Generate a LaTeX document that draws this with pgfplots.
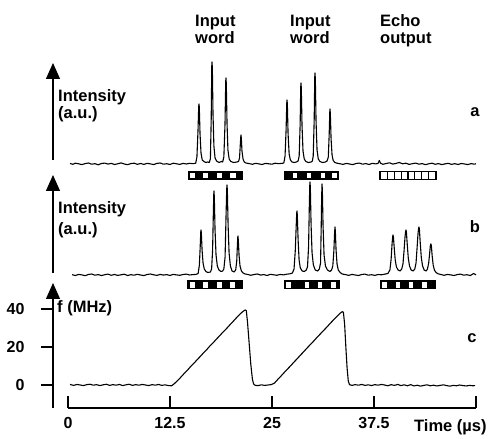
\documentclass[border=0pt]{standalone}
\usepackage{fontspec}
\setmainfont{Liberation Sans}
\usepackage{pgfplots}
\pgfplotsset{compat=1.18}
\usetikzlibrary{arrows.meta}

\pgfplotsset{
  trace/.style={black, line width=1.1pt, line join=round},
  box/.style={black, line width=9pt},
  cell/.style={white, line width=5.5pt, unbounded coords=jump},
  panel/.style={scale only axis, width=408pt, xmin=0, xmax=50, clip=false},
}
\tikzset{lbl/.style={inner sep=0pt, font=\bfseries\fontsize{16.5}{16.5}\selectfont},
         tip/.style={line width=1.2pt, -{Triangle[length=16pt,width=14pt]}}}

\begin{document}
\begin{tikzpicture}
\useasboundingbox (0pt,0pt) rectangle (494pt,438pt);

% ---- panel a
\begin{axis}[panel, hide axis, ymin=-20, ymax=101, height=121pt,
    at={(68pt,254pt)}, anchor=south west]
\addplot[trace] coordinates {
 (0.25,0.5)(0.6,-0.3)(0.9,0.8)(1.3,0.2)(1.7,-0.6)(2.1,0.4)(2.5,1.0)(2.9,-0.2)(3.3,0.3)(3.7,-0.8)
 (4.1,0.5)(4.5,0.9)(4.9,-0.1)(5.3,0.6)(5.7,-0.5)(6.1,0.2)(6.5,1.1)(6.9,0.0)(7.3,-0.7)(7.7,0.4)
 (8.1,0.8)(8.5,-0.3)(8.9,0.5)(9.3,-0.4)(9.7,0.7)(10.1,0.1)(10.5,-0.6)(10.9,0.6)(11.3,1.0)(11.7,-0.2)
 (12.1,0.3)(12.5,-0.5)(12.9,0.8)(13.3,0.2)(13.7,-0.4)(14.1,0.6)(14.5,0.0)(14.9,0.7)(15.3,0.3)
 (15.65,0.8)(15.8,7)(15.93,33)(16.02,58)(16.05,60)(16.09,57)(16.18,30)(16.3,11)(16.45,4)(16.65,2.5)(16.9,1.5)(17.1,2)(17.3,1.5)
 (17.45,5)(17.55,45)(17.62,98)(17.65,102)(17.69,96)(17.77,50)(17.88,18)(18.02,6)(18.2,3)(18.5,1.5)(18.8,2.5)(18.95,2)
 (19.1,7)(19.24,40)(19.33,83)(19.36,86)(19.40,80)(19.49,40)(19.6,14)(19.75,5)(19.95,2.5)(20.3,1.5)(20.7,2)(20.9,2.5)
 (21.02,6)(21.12,20)(21.18,28)(21.2,29)(21.24,26)(21.32,13)(21.45,5)(21.6,2)(21.8,1)
 (22.2,0.4)(22.6,-0.3)(23.0,0.7)(23.4,0.1)(23.8,-0.5)(24.2,0.6)(24.6,0.2)(25.0,-0.2)(25.4,0.8)(25.8,0.3)(26.2,0.6)
 (26.45,1)(26.6,8)(26.73,35)(26.81,61)(26.84,64)(26.88,60)(26.97,30)(27.1,10)(27.25,4)(27.45,2)(27.7,1.5)(28.0,2)(28.2,3)
 (28.33,8)(28.45,40)(28.52,77)(28.55,81)(28.59,76)(28.68,38)(28.8,13)(28.95,5)(29.15,2.5)(29.45,1.5)(29.8,2)(29.95,3)
 (30.05,8)(30.17,44)(30.24,87)(30.27,91)(30.31,85)(30.4,42)(30.52,14)(30.67,5)(30.87,2.5)(31.2,1.5)(31.55,2)(31.75,3)
 (31.9,7)(32.01,30)(32.08,52)(32.11,55)(32.15,50)(32.24,25)(32.36,9)(32.5,3.5)(32.7,1.5)(32.95,0.8)
 (33.3,0.3)(33.7,-0.4)(34.1,0.6)(34.5,0.0)(34.9,-0.6)(35.3,0.5)(35.7,0.9)(36.1,-0.2)(36.5,0.4)(36.9,-0.5)
 (37.3,0.7)(37.7,0.1)(38.0,0.6)(38.15,3.5)(38.3,0.8)(38.6,-0.3)(39.0,0.5)(39.4,1.2)(39.8,-0.1)(40.2,0.6)
 (40.6,1.5)(41.0,0.2)(41.4,0.8)(41.8,-0.4)(42.2,0.3)(42.6,0.9)(43.0,-0.2)(43.4,0.4)(43.8,-0.7)(44.2,0.2)
 (44.6,0.8)(45.0,-0.3)(45.4,0.4)(45.8,-0.6)(46.2,0.1)(46.6,0.7)(47.0,-0.4)(47.4,0.3)(47.8,-0.5)(48.2,0.5)
 (48.6,0.0)(49.0,-0.6)(49.4,0.4)(49.8,-0.2)(50.0,0.3)
};
% code words
\addplot[box] coordinates {(14.71,-11.5)(21.45,-11.5)};
\addplot[cell] coordinates {(14.95,-11.5)(15.56,-11.5)(15.56,nan)(16.54,-11.5)(17.16,-11.5)(17.16,nan)
  (18.26,-11.5)(18.87,-11.5)(18.87,nan)(19.85,-11.5)(20.59,-11.5)};
\addplot[box] coordinates {(26.47,-11.5)(33.21,-11.5)};
\addplot[cell] coordinates {(27.57,-11.5)(28.06,-11.5)(28.06,nan)(29.29,-11.5)(29.78,-11.5)(29.78,nan)
  (31.00,-11.5)(31.50,-11.5)(31.50,nan)(32.35,-11.5)(32.97,-11.5)};
\addplot[box] coordinates {(38.11,-11.5)(45.22,-11.5)};
\addplot[cell, line width=6.5pt] coordinates {(38.37,-11.5)(39.07,-11.5)(39.07,nan)(39.21,-11.5)(39.91,-11.5)(39.91,nan)
  (40.06,-11.5)(40.76,-11.5)(40.76,nan)(40.90,-11.5)(41.60,-11.5)(41.60,nan)
  (41.74,-11.5)(42.44,-11.5)(42.44,nan)(42.58,-11.5)(43.28,-11.5)(43.28,nan)
  (43.43,-11.5)(44.13,-11.5)(44.13,nan)(44.27,-11.5)(44.97,-11.5)};
\draw[tip] (axis cs:-1.84,4) -- (axis cs:-1.84,101);
\end{axis}

% ---- panel b
\begin{axis}[panel, hide axis, ymin=-20, ymax=100, height=120pt,
    at={(68pt,143pt)}, anchor=south west]
\addplot[trace] coordinates {
 (0.5,0.3)(0.9,-0.5)(1.3,0.6)(1.7,0.1)(2.1,-0.7)(2.5,0.5)(2.9,1.0)(3.3,-0.2)(3.7,0.4)(4.1,-0.6)
 (4.5,0.3)(4.9,0.9)(5.3,-0.3)(5.7,0.5)(6.1,-0.4)(6.5,0.2)(6.9,0.8)(7.3,-0.5)(7.7,0.3)(8.1,-0.2)
 (8.5,0.7)(8.9,0.0)(9.3,-0.6)(9.7,0.5)(10.1,1.0)(10.5,0.2)(10.9,-0.4)(11.3,0.6)(11.7,-0.1)(12.1,0.4)
 (12.5,-0.5)(12.9,0.6)(13.3,0.1)(13.7,-0.3)(14.1,0.5)(14.5,0.9)(14.9,0.0)(15.3,0.4)(15.7,0.6)
 (15.95,1.5)(16.1,10)(16.2,28)(16.27,43)(16.3,45)(16.34,42)(16.43,25)(16.55,12)(16.7,6)(16.9,3.5)(17.15,2.5)(17.45,3)(17.6,6)
 (17.72,25)(17.82,65)(17.87,82)(17.89,84)(17.93,78)(18.02,45)(18.14,20)(18.3,9)(18.5,5)(18.75,3.5)(18.95,4)(19.1,6)
 (19.25,18)(19.37,60)(19.45,86)(19.49,90)(19.53,84)(19.62,50)(19.74,22)(19.9,9)(20.1,4)(20.35,3)(20.55,5)
 (20.68,14)(20.77,32)(20.81,38)(20.83,39)(20.87,35)(20.96,20)(21.08,9)(21.25,4)(21.45,2)(21.7,1)
 (22.0,0.6)(22.4,-0.3)(22.8,0.5)(23.2,1.0)(23.6,-0.1)(24.0,0.4)(24.4,-0.5)(24.8,0.7)(25.2,0.2)(25.6,-0.3)
 (26.0,0.6)(26.4,0.1)(26.8,0.8)(27.2,1.2)(27.5,2)
 (27.7,6)(27.85,24)(27.97,50)(28.03,62)(28.06,64)(28.1,60)(28.2,35)(28.32,15)(28.47,7)(28.7,4)(28.95,3.5)(29.2,5)(29.35,8)
 (29.48,28)(29.58,72)(29.63,90)(29.66,93)(29.7,87)(29.79,50)(29.91,22)(30.07,10)(30.3,5)(30.6,4)(30.8,6)(30.95,12)
 (31.03,48)(31.09,80)(31.13,91)(31.17,85)(31.26,48)(31.38,20)(31.55,9)(31.8,5)(32.1,3.5)(32.3,5)(32.45,9)
 (32.58,24)(32.67,42)(32.72,48)(32.76,44)(32.85,25)(32.97,11)(33.12,5)(33.35,2.5)(33.6,1)
 (34.0,0.4)(34.4,-0.4)(34.8,0.6)(35.2,0.0)(35.6,-0.5)(36.0,0.5)(36.4,0.9)(36.8,-0.2)(37.2,0.3)(37.6,-0.4)
 (38.0,0.5)(38.4,0.2)(38.8,0.8)(39.2,1.5)
 (39.45,5)(39.6,16)(39.72,32)(39.8,39)(39.83,40)(39.88,38)(39.98,27)(40.1,15)(40.25,8)(40.45,5)(40.7,4)(40.9,6)(41.05,11)
 (41.18,24)(41.3,38)(41.38,44)(41.42,45)(41.47,43)(41.57,31)(41.7,17)(41.85,9)(42.05,5)(42.3,4)(42.5,6)(42.65,12)
 (42.77,26)(42.89,41)(42.97,47)(43.01,48)(43.06,46)(43.16,33)(43.29,18)(43.45,9)(43.65,5)(43.9,4)(44.05,6)(44.2,12)
 (44.3,20)(44.4,29)(44.46,31)(44.49,31)(44.54,28)(44.63,19)(44.75,10)(44.9,5)(45.1,2.5)(45.35,1.2)
 (45.7,0.5)(46.1,-0.3)(46.5,0.6)(46.9,0.1)(47.3,-0.5)(47.7,0.4)(48.1,0.9)(48.5,-0.2)(48.9,0.3)(49.3,-0.6)
 (49.7,1.5)(50.0,0.2)
};
\addplot[box] coordinates {(14.58,-10)(21.45,-10)};
\addplot[cell] coordinates {(14.95,-10)(15.56,-10)(15.56,nan)(16.54,-10)(17.16,-10)(17.16,nan)
  (18.26,-10)(18.87,-10)(18.87,nan)(19.85,-10)(20.47,-10)};
\addplot[box] coordinates {(26.47,-10)(33.33,-10)};
\addplot[cell] coordinates {(26.72,-10)(27.33,-10)(27.33,nan)(29.04,-10)(29.53,-10)(29.53,nan)
  (30.64,-10)(31.13,-10)(31.13,nan)(32.23,-10)(32.84,-10)};
\addplot[box] coordinates {(38.24,-10)(45.10,-10)};
\addplot[cell] coordinates {(38.48,-10)(39.09,-10)(39.09,nan)(40.20,-10)(40.69,-10)(40.69,nan)
  (41.79,-10)(42.28,-10)(42.28,nan)(43.38,-10)(43.99,-10)};
\draw[tip] (axis cs:-1.84,2) -- (axis cs:-1.84,100);
\end{axis}

% ---- panel c
\begin{axis}[panel, ymin=-12.1, ymax=53.7, height=125pt,
    at={(68pt,30pt)}, anchor=south west,
    axis x line*=bottom, axis y line*=left, axis y line shift=15pt,
    x axis line style={line width=1.1pt},
    y axis line style={line width=1.2pt, -{Triangle[length=16pt,width=14pt]}},
    xtick={0,12.5,25,37.5,50}, xticklabels={0,12.5,25,37.5,{}},
    ytick={0,20,40}, yticklabels={0,20,40},
    xtick align=inside, ytick align=outside, major tick length=12pt,
    tick style={black, line width=1.1pt},
    /pgf/number format/assume math mode=true,
    ticklabel style={font=\bfseries\fontsize{16}{16}\selectfont},
    xticklabel style={yshift=-6pt},
    yticklabel style={xshift=-13pt},
]
\addplot[trace] coordinates {
 (0.25,0.3)(0.7,-0.2)(1.1,0.3)(1.5,0.0)(1.9,-0.3)(2.3,0.2)(2.7,0.4)(3.1,-0.1)(3.5,0.2)(3.9,-0.3)
 (4.3,0.1)(4.7,0.4)(5.1,-0.2)(5.5,0.2)(5.9,-0.1)(6.3,0.3)(6.7,-0.3)(7.1,0.1)(7.5,0.4)(7.9,-0.2)
 (8.3,0.2)(8.7,-0.1)(9.1,0.3)(9.5,0.0)(9.9,-0.3)(10.3,0.2)(10.7,-0.1)(11.1,0.3)(11.5,-0.2)(11.9,0.1)
 (12.3,-0.3)(12.7,-0.4)
 (13.0,0.6)(13.4,2.2)(13.8,4.0)(14.2,5.9)(14.6,7.6)(15.0,9.6)(15.4,11.3)(15.8,13.2)(16.2,15.0)(16.6,16.9)
 (17.0,18.6)(17.4,20.6)(17.8,22.3)(18.2,24.2)(18.6,26.0)(19.0,27.9)(19.4,29.6)(19.8,31.5)(20.2,33.3)(20.6,35.2)
 (21.0,37.0)(21.4,38.6)(21.7,39.5)(21.85,39.2)
 (22.0,33)(22.2,22)(22.4,11)(22.6,3)(22.75,0.5)(22.95,-0.2)(23.3,-0.3)(23.7,0.1)(24.1,-0.2)(24.5,0.0)(24.9,0.2)
 (25.3,1.0)(25.7,2.9)(26.1,4.7)(26.5,6.6)(26.9,8.4)(27.3,10.2)(27.7,12.1)(28.1,13.9)(28.5,15.8)(28.9,17.6)
 (29.3,19.5)(29.7,21.3)(30.1,23.1)(30.5,25.0)(30.9,26.8)(31.3,28.6)(31.7,30.4)(32.1,32.3)(32.5,34.1)(32.9,35.9)
 (33.3,37.6)(33.6,38.6)(33.75,38.3)
 (33.9,32)(34.05,20)(34.2,9)(34.35,2)(34.5,0.2)(34.8,-0.2)
 (35.2,0.2)(35.6,-0.1)(36.0,0.3)(36.4,-0.2)(36.8,0.1)(37.2,-0.3)(37.6,0.2)(38.0,-0.1)(38.4,0.3)(38.8,0.0)
 (39.2,-0.4)(39.6,0.2)(40.0,-0.2)(40.4,0.3)(40.8,-0.3)(41.2,0.1)(41.6,-0.4)(42.0,0.2)(42.4,-0.5)(42.8,-0.1)
 (43.2,-0.6)(43.6,-0.2)(44.0,0.1)(44.4,-0.4)(44.8,-0.1)(45.2,-0.5)(45.6,-0.2)(46.0,0.1)(46.4,-0.3)(46.8,-0.6)
 (47.2,-0.2)(47.6,-0.4)(48.0,0.0)(48.4,-0.3)(48.8,-0.5)(49.2,-0.2)(49.6,-0.4)(49.9,-0.3)
};
\end{axis}

% ---- labels
\node[lbl, anchor=base west] at (195pt,411pt) {Input};
\node[lbl, anchor=base west] at (195pt,394pt) {word};
\node[lbl, anchor=base west] at (290pt,411pt) {Input};
\node[lbl, anchor=base west] at (290pt,394pt) {word};
\node[lbl, anchor=base west] at (380pt,411pt) {Echo};
\node[lbl, anchor=base west] at (380pt,394pt) {output};
\node[lbl, anchor=base west] at (58pt,336pt) {Intensity};
\node[lbl, anchor=base west] at (58pt,319pt) {(a.u.)};
\node[lbl, anchor=base west] at (58pt,224pt) {Intensity};
\node[lbl, anchor=base west] at (58pt,203pt) {(a.u.)};
\node[lbl, anchor=base west] at (57pt,125pt) {f (MHz)};
\node[lbl, anchor=base] at (475pt,321pt) {a};
\node[lbl, anchor=base] at (475pt,205pt) {b};
\node[lbl, anchor=base] at (472pt,95pt) {c};
\node[lbl, anchor=base west] at (414pt,7pt) {Time (µs)};
\end{tikzpicture}
\end{document}
